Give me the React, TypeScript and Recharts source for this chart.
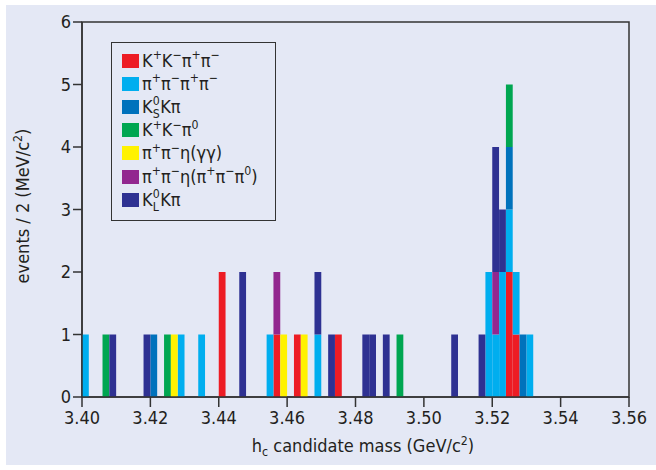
import React from "react"
import { Bar, BarChart, XAxis, YAxis, Legend, ReferenceArea } from "recharts"

// 2 MeV bins (centres, GeV) that hold at least one event
const binCenters = [
    3.401, 3.407, 3.409, 3.419, 3.421, 3.425, 3.427, 3.429, 3.435, 3.441, 3.447,
    3.455, 3.457, 3.459, 3.463, 3.465, 3.469, 3.473, 3.475, 3.483, 3.485, 3.489,
    3.493, 3.509, 3.517, 3.519, 3.521, 3.523, 3.525, 3.527, 3.529, 3.531,
]

// events per bin, one array per decay channel (same order as binCenters)
const kkpipi = [0, 0, 0, 0, 0, 0, 0, 0, 0, 2, 0, 0, 1, 0, 1, 0, 0, 0, 1, 0, 0, 0, 0, 0, 0, 0, 0, 0, 2, 1, 0, 0]
const pipipipi = [1, 0, 0, 0, 0, 0, 0, 1, 1, 0, 0, 1, 0, 0, 0, 0, 1, 0, 0, 0, 0, 0, 0, 0, 0, 2, 1, 2, 1, 1, 0, 1]
const ksKpi = [0, 0, 0, 0, 1, 0, 0, 0, 0, 0, 0, 0, 0, 0, 0, 0, 0, 0, 0, 0, 0, 0, 0, 0, 0, 0, 0, 0, 1, 0, 1, 0]
const kkpi0 = [0, 1, 0, 0, 0, 1, 0, 0, 0, 0, 0, 0, 0, 0, 0, 0, 0, 0, 0, 0, 0, 0, 1, 0, 0, 0, 0, 0, 1, 0, 0, 0]
const pipiEtaGG = [0, 0, 0, 0, 0, 0, 1, 0, 0, 0, 0, 0, 0, 1, 0, 1, 0, 0, 0, 0, 0, 0, 0, 0, 0, 0, 0, 0, 0, 0, 0, 0]
const pipiEta3pi = [0, 0, 0, 0, 0, 0, 0, 0, 0, 0, 0, 0, 1, 0, 0, 0, 0, 0, 0, 0, 0, 0, 0, 0, 0, 0, 1, 0, 0, 0, 0, 0]
const klKpi = [0, 0, 1, 1, 0, 0, 0, 0, 0, 0, 2, 0, 0, 0, 0, 0, 1, 1, 0, 1, 1, 1, 0, 1, 1, 0, 2, 1, 0, 0, 0, 0]

const massTicks = [3.4, 3.42, 3.44, 3.46, 3.48, 3.5, 3.52, 3.54, 3.56]
const countTicks = [0, 1, 2, 3, 4, 5, 6]

const FONT = "'DejaVu Sans Condensed', 'Liberation Sans', Arial, sans-serif"
const INK = "#231F20"

const Sup = ({ children }: { children: React.ReactNode }) => (
    <span style={{ fontSize: "0.68em", position: "relative", top: "-0.6em" }}>{children}</span>
)
const Sub = ({ children }: { children: React.ReactNode }) => (
    <span style={{ fontSize: "0.68em", position: "relative", top: "0.3em" }}>{children}</span>
)
// superscript stacked over a subscript (K_S^0)
const SupSub = ({ sup, sub }: { sup: string; sub: string }) => (
    <span style={{ display: "inline-block", position: "relative", width: "0.62em", height: "1em", fontSize: "0.68em" }}>
        <span style={{ position: "absolute", left: 0, top: "-0.45em", lineHeight: 1 }}>{sup}</span>
        <span style={{ position: "absolute", left: 0, top: "0.6em", lineHeight: 1 }}>{sub}</span>
    </span>
)

const channels = [
    { key: "kkpipi", values: kkpipi, color: "#ED1C24", label: <>K<Sup>+</Sup>K<Sup>−</Sup>π<Sup>+</Sup>π<Sup>−</Sup></> },
    { key: "pipipipi", values: pipipipi, color: "#00AEEF", label: <>π<Sup>+</Sup>π<Sup>−</Sup>π<Sup>+</Sup>π<Sup>−</Sup></> },
    { key: "ksKpi", values: ksKpi, color: "#0072BC", label: <>K<SupSub sup="0" sub="S" />Kπ</> },
    { key: "kkpi0", values: kkpi0, color: "#00A651", label: <>K<Sup>+</Sup>K<Sup>−</Sup>π<Sup>0</Sup></> },
    { key: "pipiEtaGG", values: pipiEtaGG, color: "#FFF200", label: <>π<Sup>+</Sup>π<Sup>−</Sup>η(γγ)</> },
    { key: "pipiEta3pi", values: pipiEta3pi, color: "#92278F", label: <>π<Sup>+</Sup>π<Sup>−</Sup>η(π<Sup>+</Sup>π<Sup>−</Sup>π<Sup>0</Sup>)</> },
    { key: "klKpi", values: klKpi, color: "#2E3192", label: <>K<SupSub sup="0" sub="L" />Kπ</> },
]

const data = binCenters.map((mass, i) => {
    const row: Record<string, number> = { mass }
    channels.forEach((c) => (row[c.key] = c.values[i]))
    return row
})

const LegendBox = () => (
    <div
        style={{
            boxSizing: "border-box",
            width: 165,
            height: 179,
            border: "1.5px solid #333",
            padding: "6px 0 0 10px",
            fontFamily: FONT,
            fontSize: 18,
            color: INK,
        }}
    >
        {channels.map((c) => (
            <div key={c.key} style={{ display: "flex", alignItems: "center", height: 23.2, whiteSpace: "nowrap" }}>
                <span style={{ width: 17, height: 14, background: c.color, marginRight: 3, flex: "none" }} />
                <span style={{ lineHeight: 1 }}>{c.label}</span>
            </div>
        ))}
    </div>
)

export default function App() {
    return (
        <div style={{ position: "absolute", left: 0, top: 0, width: 656, height: 470, background: "#fff", fontFamily: FONT }}>
            <div style={{ position: "absolute", left: 6, top: 5, right: 0, bottom: 5, background: "#E4E8F5" }} />
            <div style={{ position: "absolute", left: 0, top: 0 }}>
                <BarChart
                    width={656}
                    height={470}
                    data={data}
                    margin={{ top: 22, right: 27, left: 0, bottom: 0 }}
                    barCategoryGap={0}
                    barGap={0}
                >
                    <XAxis
                        dataKey="mass"
                        type="number"
                        domain={[3.4, 3.56]}
                        ticks={massTicks}
                        interval={0}
                        allowDataOverflow
                        tickFormatter={(v) => v.toFixed(2)}
                        height={73}
                        tickSize={10}
                        tickMargin={4}
                        stroke="#333"
                        strokeWidth={1.5}
                        tick={{ fill: INK, fontSize: 18, fontFamily: FONT }}
                    />
                    <YAxis
                        type="number"
                        domain={[0, 6]}
                        ticks={countTicks}
                        interval={0}
                        width={82}
                        tickSize={9}
                        tickMargin={2}
                        stroke="#333"
                        strokeWidth={1.5}
                        tick={{ fill: INK, fontSize: 18, fontFamily: FONT }}
                    />
                    <ReferenceArea x1={3.4} x2={3.56} y1={0} y2={6} fill="none" stroke="#333" strokeWidth={1.5} />
                    {channels.map((c) => (
                        <Bar key={c.key} dataKey={c.key} stackId="m" fill={c.color} barSize={6.8} isAnimationActive={false} />
                    ))}
                    <Legend
                        layout="horizontal"
                        verticalAlign="middle"
                        align="center"
                        wrapperStyle={{ left: 111, top: 42, width: 165, height: 179 }}
                        content={() => <LegendBox />}
                    />
                </BarChart>
            </div>
            <div
                style={{
                    position: "absolute",
                    left: 24,
                    top: 206,
                    transform: "translate(-50%, -50%) rotate(-90deg)",
                    whiteSpace: "nowrap",
                    fontSize: 18,
                    lineHeight: "18px",
                    color: INK,
                }}
            >
                events / 2 (MeV/c<Sup>2</Sup>)
            </div>
            <div
                style={{
                    position: "absolute",
                    left: 363,
                    top: 437,
                    transform: "translateX(-50%)",
                    whiteSpace: "nowrap",
                    fontSize: 18,
                    lineHeight: "18px",
                    color: INK,
                }}
            >
                h<Sub>c</Sub> candidate mass (GeV/c<Sup>2</Sup>)
            </div>
        </div>
    )
}
